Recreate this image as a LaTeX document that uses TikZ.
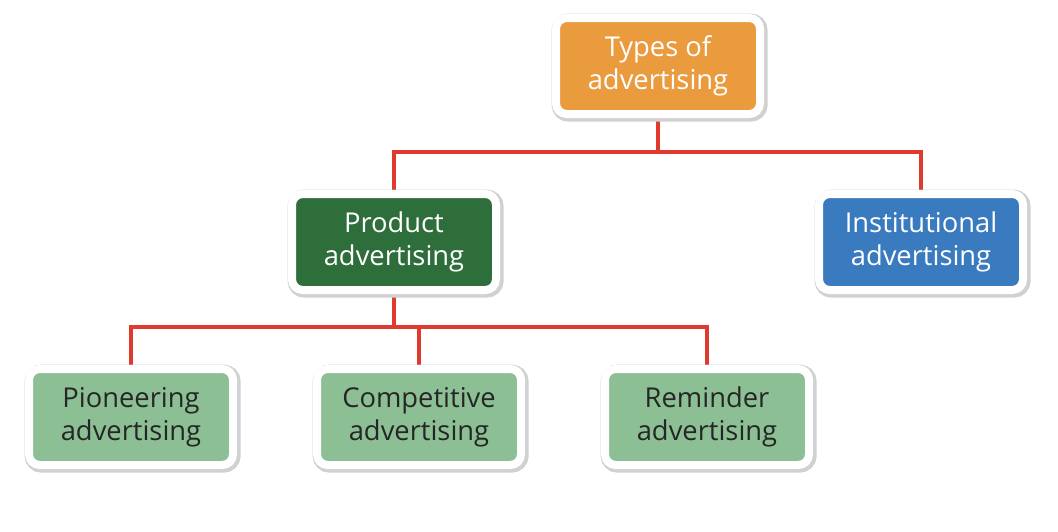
\documentclass[tikz,border=0pt]{standalone}
\usepackage{fontspec}
\setmainfont{Open Sans}
\definecolor{orng}{HTML}{EA9B3E}
\definecolor{dgreen}{HTML}{2E6E3A}
\definecolor{blu}{HTML}{3A7ABF}
\definecolor{lgreen}{HTML}{8CBF94}
\definecolor{redl}{HTML}{E03A2E}
\tikzset{
 box/.style={rounded corners=8pt, minimum width=153pt, minimum height=72pt, draw=white, line width=6pt, text=white, align=center, font=\fontsize{20.5}{25}\selectfont,
   preaction={draw=black!18, line width=9pt, transform canvas={xshift=1.2pt,yshift=-1.2pt}}},
 conn/.style={draw=redl, line width=3.6pt}
}
\begin{document}
\begin{tikzpicture}[x=0.75pt,y=-0.75pt]
\useasboundingbox (0,0) rectangle (1058,532);
\draw[conn] (658,110) -- (658,152) coordinate (t1);
\draw[conn] (394,196) -- (394,152) -- (921,152) -- (921,196);
\draw[conn] (394,288) -- (394,327);
\draw[conn] (131,372) -- (131,327) -- (707,327) -- (707,372);
\draw[conn] (419,327) -- (419,372);
\node[box, fill=orng] (types) at (658,66) {Types of\\advertising};
\node[box, fill=dgreen] (prod) at (394,242) {Product\\advertising};
\node[box, fill=blu] (inst) at (921,242) {Institutional\\advertising};
\node[box, fill=lgreen, text=black!85] (pion) at (131,417) {Pioneering\\advertising};
\node[box, fill=lgreen, text=black!85] (comp) at (419,417) {Competitive\\advertising};
\node[box, fill=lgreen, text=black!85] (rem) at (707,417) {Reminder\\advertising};
\end{tikzpicture}
\end{document}
